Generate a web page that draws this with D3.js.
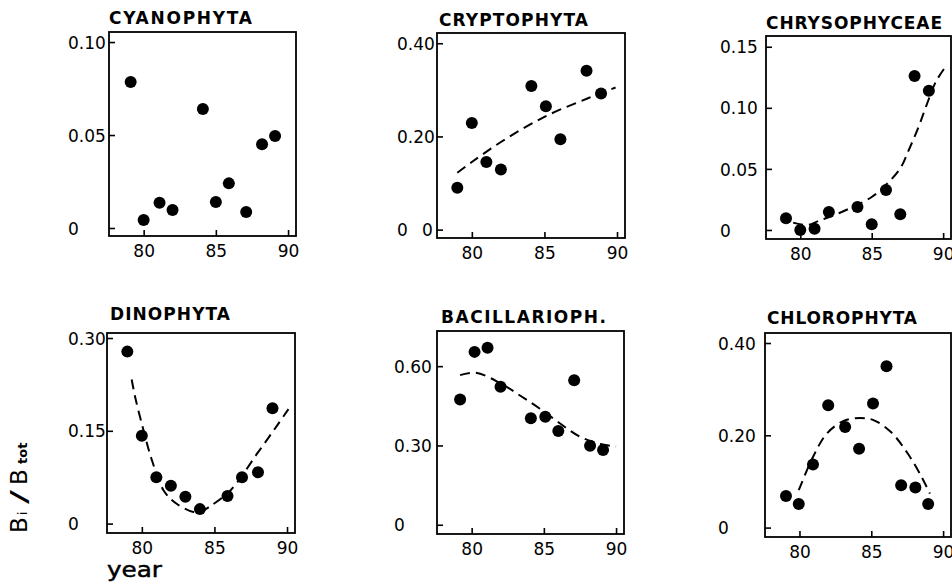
<!DOCTYPE html>
<html lang="en">

<head>
    <meta charset="UTF-8" />
    <title>Phytoplankton groups, Bi / Btot by year</title>
    <script src="https://d3js.org/d3.v7.min.js"></script>
    <style>
        body { margin: 0; background: #fff; }
        text { font-family: "DejaVu Sans", sans-serif; fill: #000; }
    </style>
</head>

<body>
    <svg id="chart" width="952" height="587"></svg>
</body>

<script>
    // values
    var cyanoYears = [79.1, 80, 81.1, 82, 84.1, 85, 85.9, 87.1, 88.2, 89.1];
    var cyanoValues = [0.0785, 0.0043, 0.0136, 0.0097, 0.064, 0.014, 0.024, 0.0086, 0.045, 0.0495];
    var cyanoTicks = [0, 0.05, 0.10];

    var cryptoYears = [79, 80, 81, 82, 84.1, 85.1, 86.1, 87.9, 88.9];
    var cryptoValues = [0.090, 0.229, 0.145, 0.129, 0.308, 0.265, 0.194, 0.341, 0.292];
    var cryptoFitYears = [79, 80, 82, 85, 88, 89.9];
    var cryptoFitValues = [0.122, 0.145, 0.188, 0.242, 0.282, 0.305];
    var cryptoTicks = [0, 0.20, 0.40];

    var chrysoYears = [79, 80, 81, 82, 84, 85, 86, 87, 88, 89];
    var chrysoValues = [0.0096, 0.0, 0.001, 0.0147, 0.0188, 0.0046, 0.0327, 0.0128, 0.126, 0.114];
    var chrysoFitYears = [79.5, 80.5, 81.3, 82.7, 85, 86, 87, 87.6, 88.3, 88.8, 89.5, 90.25];
    var chrysoFitValues = [0.006, 0.004, 0.0075, 0.0137, 0.027, 0.037, 0.0505, 0.0656, 0.085, 0.101, 0.1216, 0.135];
    var chrysoTicks = [0, 0.05, 0.10, 0.15];

    var dinoYears = [79, 80, 81, 82, 83, 84, 85.9, 86.9, 88, 89];
    var dinoValues = [0.278, 0.142, 0.075, 0.061, 0.0435, 0.0234, 0.0447, 0.075, 0.083, 0.1865];
    var dinoFitYears = [79.3, 79.55, 80.07, 80.7, 81.5, 82.4, 83.55, 84, 84.7, 86.1, 88, 89.3, 90.1];
    var dinoFitValues = [0.233, 0.2035, 0.155, 0.102, 0.0536, 0.032, 0.0187, 0.0187, 0.028, 0.0536, 0.115, 0.158, 0.185];
    var dinoTicks = [0, 0.15, 0.30];

    var bacilYears = [79.2, 80.2, 81.1, 82.0, 84.1, 85.1, 86.0, 87.1, 88.2, 89.1];
    var bacilValues = [0.474, 0.654, 0.670, 0.522, 0.403, 0.409, 0.355, 0.547, 0.299, 0.283];
    var bacilFitYears = [79.2, 80.3, 82, 83.4, 84.7, 86.1, 87.5, 88.9, 90];
    var bacilFitValues = [0.566, 0.575, 0.535, 0.487, 0.44, 0.384, 0.333, 0.306, 0.296];
    var bacilTicks = [0, 0.30, 0.60];

    var chloroYears = [79.06, 79.95, 80.94, 82.0, 83.18, 84.15, 85.12, 86.06, 87.08, 88.07, 88.96];
    var chloroValues = [0.0685, 0.051, 0.1365, 0.265, 0.218, 0.171, 0.269, 0.3495, 0.0917, 0.0867, 0.051];
    var chloroFitYears = [79.95, 80.94, 81.9, 83.07, 84.25, 85.19, 86.37, 87.55, 88.5, 89.08];
    var chloroFitValues = [0.081, 0.153, 0.2036, 0.231, 0.2375, 0.2325, 0.207, 0.160, 0.110, 0.0736];
    var chloroTicks = [0, 0.20, 0.40];

    var yearTicks = [80, 85, 90];

    var panels = [
        { title: "CYANOPHYTA", years: cyanoYears, values: cyanoValues, ticks: cyanoTicks },
        { title: "CRYPTOPHYTA", years: cryptoYears, values: cryptoValues, fitYears: cryptoFitYears, fitValues: cryptoFitValues, ticks: cryptoTicks },
        { title: "CHRYSOPHYCEAE", years: chrysoYears, values: chrysoValues, fitYears: chrysoFitYears, fitValues: chrysoFitValues, ticks: chrysoTicks },
        { title: "DINOPHYTA", years: dinoYears, values: dinoValues, fitYears: dinoFitYears, fitValues: dinoFitValues, ticks: dinoTicks },
        { title: "BACILLARIOPH.", years: bacilYears, values: bacilValues, fitYears: bacilFitYears, fitValues: bacilFitValues, ticks: bacilTicks },
        { title: "CHLOROPHYTA", years: chloroYears, values: chloroValues, fitYears: chloroFitYears, fitValues: chloroFitValues, ticks: chloroTicks }
    ];

    // frame boxes and axis extents of each panel
    var layout = [
        { left: 109, top: 32, w: 187, h: 204, yMin: -0.0043, yMax: 0.1054, labelX: 68, titleX: 109, titleY: 24, titleW: 143 },
        { left: 437, top: 33, w: 188, h: 205, yMin: -0.018, yMax: 0.422, labelX: 397, titleX: 439, titleY: 26, titleW: 149 },
        { left: 766, top: 36, w: 185, h: 203, yMin: -0.0074, yMax: 0.1588, labelX: 720, titleX: 766, titleY: 29, titleW: 176 },
        { left: 107, top: 333, w: 188, h: 200, yMin: -0.0152, yMax: 0.3081, labelX: 68, titleX: 110, titleY: 320, titleW: 120 },
        { left: 437, top: 331, w: 187, h: 203, yMin: -0.035, yMax: 0.733, labelX: 394, titleX: 441, titleY: 323, titleW: 165 },
        { left: 765, top: 333, w: 186, h: 204, yMin: -0.0204, yMax: 0.4217, labelX: 718, titleX: 767, titleY: 324, titleW: 150 }
    ];
    var xDomain = [77.6, 90.55];

    var svg = d3.select("#chart");
    var fmt = function (d) { return d === 0 ? "0" : d.toFixed(2); };

    panels.forEach(function (p, i) {
        var L = layout[i];
        var g = svg.append("g").attr("transform", `translate(${L.left},${L.top})`);

        var x = d3.scaleLinear().domain(xDomain).range([0, L.w]);
        var y = d3.scaleLinear().domain([L.yMin, L.yMax]).range([L.h, 0]);

        var ya = g.append("g")
            .call(d3.axisLeft(y).tickValues(p.ticks).tickSize(-6).tickFormat(fmt))
            .attr("font-size", 17)
            .attr("font-family", "DejaVu Sans, sans-serif");
        ya.select(".domain").remove();
        ya.selectAll("line").attr("stroke-width", 1.6);
        ya.selectAll("text")
            .attr("x", L.labelX - L.left)
            .attr("dy", "0.36em")
            .attr("text-anchor", "start");

        // the scan shows a second zero beside the CRYPTOPHYTA axis
        if (i === 1) {
            g.append("text")
                .attr("x", -15)
                .attr("y", y(0))
                .attr("dy", "0.36em")
                .style("font-size", "17px")
                .text("0");
        }

        var xa = g.append("g")
            .attr("transform", `translate(0,${L.h})`)
            .call(d3.axisBottom(x).tickValues(yearTicks).tickSize(-6))
            .attr("font-size", 17)
            .attr("font-family", "DejaVu Sans, sans-serif");
        xa.select(".domain").remove();
        xa.selectAll("line").attr("stroke-width", 1.6);
        xa.selectAll("text").attr("y", 21).attr("dy", 0);

        g.append("rect")
            .attr("width", L.w)
            .attr("height", L.h)
            .attr("fill", "none")
            .attr("stroke", "black")
            .attr("stroke-width", 1.8);

        if (p.fitYears) {
            var line = d3.line()
                .x(function (d, k) { return x(p.fitYears[k]); })
                .y(function (d) { return y(d); })
                .curve(d3.curveCatmullRom);
            g.append("path")
                .datum(p.fitValues)
                .attr("d", line)
                .attr("fill", "none")
                .attr("stroke", "black")
                .attr("stroke-width", 2)
                .attr("stroke-dasharray", "10,6");
        }

        g.selectAll("circle")
            .data(p.values)
            .enter()
            .append("circle")
            .attr("cx", function (d, k) { return x(p.years[k]); })
            .attr("cy", function (d) { return y(d); })
            .attr("r", 6)
            .attr("fill", "black");

        svg.append("text")
            .attr("x", L.titleX)
            .attr("y", L.titleY)
            .attr("textLength", L.titleW)
            .attr("lengthAdjust", "spacing")
            .style("font-size", "17px")
            .style("font-weight", "bold")
            .text(p.title);
    });

    // shared axis titles
    var ylab = svg.append("text")
        .attr("transform", "translate(27,533) rotate(-90)")
        .style("font-size", "23px");
    ylab.append("tspan").attr("x", 0).text("B");
    ylab.append("tspan").attr("x", 18).style("font-size", "12px").text("i");
    ylab.append("tspan").attr("x", 29).attr("textLength", 14).attr("lengthAdjust", "spacingAndGlyphs").text("/");
    ylab.append("tspan").attr("x", 48).text("B");
    ylab.append("tspan").attr("x", 69).style("font-size", "13px").style("font-weight", "bold").text("tot");

    svg.append("text")
        .attr("x", 107)
        .attr("y", 577)
        .attr("textLength", 55)
        .attr("lengthAdjust", "spacingAndGlyphs")
        .style("font-size", "22px")
        .style("stroke", "black")
        .style("stroke-width", 0.5)
        .text("year");
</script>

</html>
